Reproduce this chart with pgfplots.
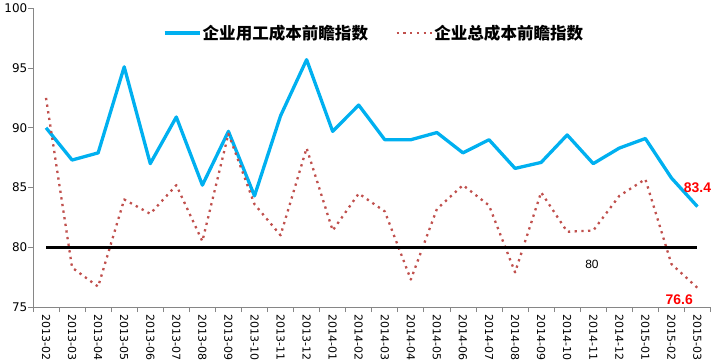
\documentclass[border=0pt]{standalone}
\usepackage{pgfplots}
\pgfplotsset{compat=1.18}
\usepackage{fontspec}
\setmainfont{DejaVu Sans}
\newfontfamily\arialf{Liberation Sans}
\newfontfamily\cjk{Noto Sans CJK SC}
\definecolor{blueline}{HTML}{00B0F0}
\definecolor{redline}{HTML}{C0504D}
\definecolor{axgray}{HTML}{868686}
\begin{document}
\begin{tikzpicture}
\useasboundingbox (0,0) rectangle (713bp,363bp);
\begin{axis}[
  at={(33bp,56bp)}, anchor=south west,
  scale only axis, width=677.5bp, height=298.7bp,
  xmin=-0.5, xmax=25.5, ymin=75, ymax=100,
  ytick={75,80,85,90,95,100},
  xtick={0,...,25},
  xticklabels={2013-02,2013-03,2013-04,2013-05,2013-06,2013-07,2013-08,2013-09,2013-10,2013-11,2013-12,2014-01,2014-02,2014-03,2014-04,2014-05,2014-06,2014-07,2014-08,2014-09,2014-10,2014-11,2014-12,2015-01,2015-02,2015-03},
  minor xtick={-0.5,0.5,...,25.5},
  axis x line*=bottom, axis y line*=left,
  axis line style={draw=axgray, line width=0.8bp, -},
  tick align=outside,
  major tick length=5bp, minor tick length=5bp,
  every tick/.style={draw=axgray, line width=0.8bp},
  major x tick style={draw=none},
  minor x tick style={draw=axgray, line width=0.8bp},
  /pgf/number format/assume math mode=true,
  tick label style={font=\fontsize{12}{12}\selectfont},
  x tick label style={rotate=-90, anchor=west, font=\fontsize{11}{11}\selectfont, inner xsep=2.5bp},
  y tick label style={inner xsep=0.5bp},
  legend columns=2,
  legend style={draw=none, fill=none, at={(0.187,0.917)}, anchor=west,
    font=\fontsize{16.6}{16.6}\selectfont\cjk\bfseries,
    nodes={inner sep=1.5bp},
    /tikz/every even column/.append style={column sep=26bp}},
  legend image code/.code={\draw[#1] (0bp,0bp) -- (35bp,0bp);},
]
\addplot[blueline, line width=3.3bp, line join=round] coordinates {
(0,90.0) (1,87.3) (2,87.9) (3,95.1) (4,87.0) (5,90.9) (6,85.2) (7,89.7) (8,84.3) (9,91.0)
(10,95.7) (11,89.7) (12,91.9) (13,89.0) (14,89.0) (15,89.6) (16,87.9) (17,89.0) (18,86.6) (19,87.1)
(20,89.4) (21,87.0) (22,88.3) (23,89.1) (24,85.8) (25,83.4)};
\addlegendentry{企业用工成本前瞻指数}
\addplot[redline, line width=2.3bp, dash pattern=on 2.3bp off 4.4bp, line join=round] coordinates {
(0,92.5) (1,78.3) (2,76.7) (3,84.0) (4,82.8) (5,85.2) (6,80.5) (7,89.5) (8,83.6) (9,81.0)
(10,88.3) (11,81.4) (12,84.5) (13,83.0) (14,77.3) (15,83.2) (16,85.2) (17,83.5) (18,77.9) (19,84.6)
(20,81.3) (21,81.4) (22,84.3) (23,85.7) (24,78.6) (25,76.6)};
\addlegendentry{企业总成本前瞻指数}
\addplot[black, line width=3.5bp, forget plot] coordinates {(0,80) (25,80)};
\node[font=\fontsize{14}{14}\selectfont\arialf\bfseries, text=red] at (axis cs:25,84.95) {83.4};
\node[font=\fontsize{14}{14}\selectfont\arialf\bfseries, text=red] at (axis cs:24.3,75.6) {76.6};
\node[font=\fontsize{12}{12}\selectfont\arialf] at (axis cs:20.95,78.6) {80};
\end{axis}
\end{tikzpicture}
\end{document}
